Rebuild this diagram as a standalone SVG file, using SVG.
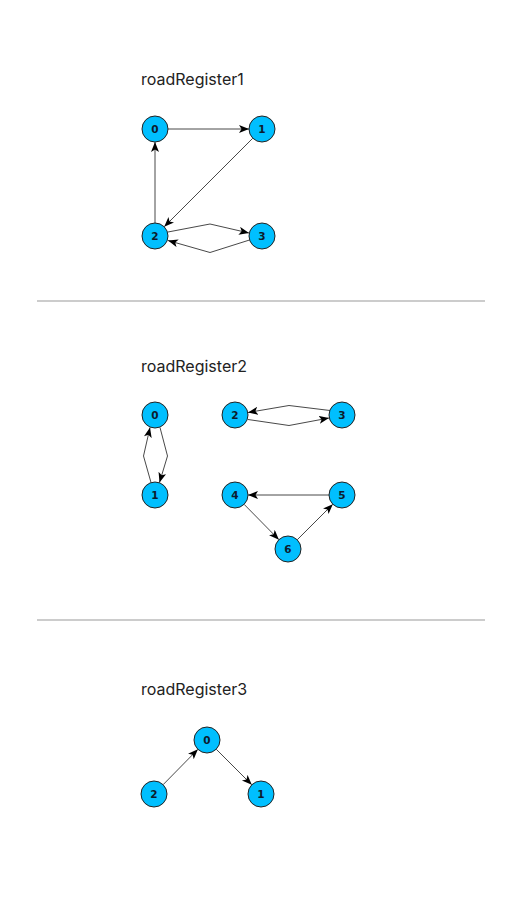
<svg xmlns="http://www.w3.org/2000/svg" width="522" height="902" viewBox="0 0 522 902">
<defs>
<style>
.title{font-family:Inter,"Liberation Sans",sans-serif;font-size:16px;fill:#222}
.node circle{fill:#00BFFF;stroke:#222;stroke-width:1}
.node text{font-family:"DejaVu Sans","Liberation Sans",sans-serif;font-weight:bold;font-size:10.5px;fill:#0d1b2e;text-anchor:middle;dominant-baseline:central}
.edge{fill:none;stroke:#333;stroke-width:0.9;marker-end:url(#arr)}
.divider{stroke:#999;stroke-width:1}
</style>
<marker id="arr" markerUnits="userSpaceOnUse" markerWidth="11" markerHeight="9" refX="10" refY="4" orient="auto">
<path d="M0,0 L10,4 L0,8 L2.5,4 z" fill="#000"/>
</marker>
</defs>
<rect width="522" height="902" fill="#fff"/>
<line class="divider" x1="37" y1="301" x2="485" y2="301"/>
<line class="divider" x1="37" y1="620" x2="485" y2="620"/>
<text class="title" x="141" y="85">roadRegister1</text>
<text class="title" x="141" y="372">roadRegister2</text>
<text class="title" x="141" y="695">roadRegister3</text>
<g id="connectors">
<line class="edge" x1="168" y1="129" x2="249" y2="129"/>
<line class="edge" x1="252.8" y1="138.2" x2="164.2" y2="226.8"/>
<line class="edge" x1="155" y1="223" x2="155" y2="142"/>
<polyline class="edge" points="168,232 210,224 249,233"/>
<polyline class="edge" points="249.5,240 210,252.5 168,240.5"/>
<polyline class="edge" points="151,482.5 143.5,456 150,427.5"/>
<polyline class="edge" points="160,427.5 167.5,456 159.5,482.5"/>
<polyline class="edge" points="330,410.5 289,405.5 248,412.5"/>
<polyline class="edge" points="248,419.5 289,425.5 329,418"/>
<line class="edge" x1="329" y1="495" x2="248" y2="495"/>
<line class="edge" x1="244.1" y1="504.3" x2="278.9" y2="539.7"/>
<line class="edge" x1="297.2" y1="539.8" x2="332.8" y2="504.2"/>
<line class="edge" x1="163.1" y1="784.7" x2="197.9" y2="749.3"/>
<line class="edge" x1="216.2" y1="749.2" x2="251.8" y2="784.8"/>
</g>
<g id="r1-n0" class="node"><circle cx="155" cy="129" r="13"/><text x="155" y="129">0</text></g>
<g id="r1-n1" class="node"><circle cx="262" cy="129" r="13"/><text x="262" y="129">1</text></g>
<g id="r1-n2" class="node"><circle cx="155" cy="236" r="13"/><text x="155" y="236">2</text></g>
<g id="r1-n3" class="node"><circle cx="262" cy="236" r="13"/><text x="262" y="236">3</text></g>
<g id="r2-n0" class="node"><circle cx="155" cy="415" r="13"/><text x="155" y="415">0</text></g>
<g id="r2-n1" class="node"><circle cx="155" cy="495" r="13"/><text x="155" y="495">1</text></g>
<g id="r2-n2" class="node"><circle cx="235" cy="415" r="13"/><text x="235" y="415">2</text></g>
<g id="r2-n3" class="node"><circle cx="342" cy="415" r="13"/><text x="342" y="415">3</text></g>
<g id="r2-n4" class="node"><circle cx="235" cy="495" r="13"/><text x="235" y="495">4</text></g>
<g id="r2-n5" class="node"><circle cx="342" cy="495" r="13"/><text x="342" y="495">5</text></g>
<g id="r2-n6" class="node"><circle cx="288" cy="549" r="13"/><text x="288" y="549">6</text></g>
<g id="r3-n0" class="node"><circle cx="207" cy="740" r="13"/><text x="207" y="740">0</text></g>
<g id="r3-n1" class="node"><circle cx="261" cy="794" r="13"/><text x="261" y="794">1</text></g>
<g id="r3-n2" class="node"><circle cx="154" cy="794" r="13"/><text x="154" y="794">2</text></g>
</svg>
